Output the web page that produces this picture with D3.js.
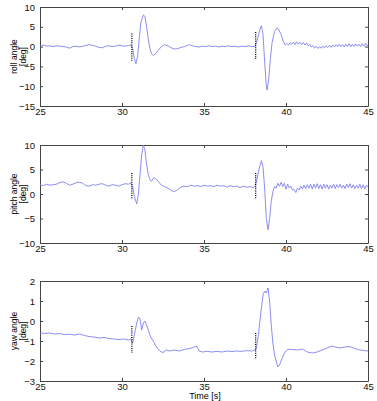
<!DOCTYPE html>
<html>
<head>
<meta charset="utf-8">
<script src="https://cdn.jsdelivr.net/npm/d3@7"></script>
<style>
  body { margin: 0; background: #fff; }
  svg text { font-family: "Liberation Sans", Arial, sans-serif; }
</style>
</head>
<body>
<svg width="377" height="401"></svg>
<script>
// time ticks shared by all panels
const timeTicks = [25, 30, 35, 40, 45]

// roll angle [t, deg]
const roll = [[25,0.1],[25.2,0.4],[25.4,0.1],[25.6,0.2],[25.8,0],[26.0,0.2],[26.2,0.1],[26.4,0],[26.6,-0.1],[26.8,-0.4],[27.0,0],[27.2,0.1],[27.4,-0.1],[27.6,0.1],[27.8,0.3],[28.0,0.5],[28.2,0.3],[28.4,0.1],[28.6,-0.2],[28.8,-0.3],[29.0,0.1],[29.2,0.2],[29.4,0],[29.6,0.1],[29.8,0.4],[30.0,0.2],[30.2,0.1],[30.4,0.3],[30.55,0.4],
  [30.65,-0.5],[30.75,-3],[30.85,-4.3],[30.95,-2.5],[31.05,2],[31.15,6],[31.3,8],[31.4,7.6],[31.5,5],[31.6,2],[31.7,-0.5],[31.8,-1.8],[31.9,-2.2],[32.0,-2.0],[32.2,-1.0],[32.4,0],[32.6,0.5],[32.8,0.2],[33.0,-0.3],[33.2,-0.6],[33.4,-0.5],[33.6,-0.2],[33.8,0],[34.0,0.3],[34.1,0.5],[34.3,0.2],[34.5,0],[34.7,-0.1],[34.9,0.1],[35.1,0],[35.3,0.2],[35.5,0],[35.7,0.1],[35.9,-0.1],[36.1,0.1],[36.3,0],[36.5,0.2],[36.7,0],[36.9,0.1],[37.1,-0.1],[37.3,0.1],[37.5,0],[37.7,0.2],[37.9,0],[38.1,0.1],
  [38.2,1.0],[38.3,2.5],[38.4,4.2],[38.5,5.3],[38.6,3],[38.7,-4],[38.8,-10],[38.85,-11],[38.95,-8],[39.05,-3],[39.15,1],[39.3,3.8],[39.45,4.7],[39.55,4.4],[39.7,3],[39.85,1.2],[39.95,0.4],[40.05,0.8],[40.15,0.4],[40.25,1],[40.35,0.6],[40.45,1.1],[40.55,0.5],[40.65,1.2],[40.75,0.6],[40.85,1.1],[40.95,0.5],[41.05,1],[41.15,0.4],[41.25,0.9],[41.35,0.2],[41.45,0.6],[41.55,-0.1],[41.65,0.3],[41.75,-0.4],[41.85,0.1],[41.95,-0.5],[42.05,0],[42.15,-0.4],[42.25,0.1],[42.35,-0.3],[42.45,0.2],[42.55,-0.2],[42.65,0.3],[42.75,-0.2],[42.85,0.4],[42.95,-0.1],[43.05,0.5],[43.15,0],[43.25,0.6],[43.35,0],[43.45,0.5],[43.55,-0.1],[43.65,0.6],[43.75,0],[43.85,0.7],[43.95,0],[44.05,0.6],[44.15,0],[44.25,0.7],[44.35,0.1],[44.45,0.6],[44.55,0],[44.65,0.7],[44.75,0.1],[44.85,0.8],[44.95,0.2],[45,0.5]]

// pitch angle [t, deg]
const pitch = [[25,1.9],[25.2,1.7],[25.4,2.0],[25.6,1.8],[25.8,1.9],[26.0,2.0],[26.2,2.3],[26.4,2.5],[26.6,2.2],[26.8,1.8],[27.0,2.0],[27.2,2.3],[27.4,2.4],[27.6,2.2],[27.8,1.7],[28.0,1.6],[28.2,1.9],[28.4,1.8],[28.6,2.0],[28.8,2.1],[29.0,1.8],[29.2,1.6],[29.4,1.9],[29.6,1.8],[29.8,1.6],[30.0,1.9],[30.2,2.1],[30.4,2.0],[30.55,2.3],
  [30.65,1.5],[30.75,-0.5],[30.9,-2],[31.0,0],[31.1,4],[31.2,8],[31.3,10],[31.4,9],[31.5,6],[31.6,4],[31.7,3],[31.8,2.6],[31.9,3.2],[32.0,3.3],[32.1,3.0],[32.2,2.6],[32.4,1.8],[32.6,1.5],[32.8,1.2],[33.0,0.7],[33.2,0.5],[33.4,0.9],[33.6,1.4],[33.8,1.6],[34.0,1.5],[34.2,1.8],[34.4,1.6],[34.6,1.7],[34.8,1.5],[35.0,1.8],[35.2,1.6],[35.4,1.7],[35.6,1.5],[35.8,1.8],[36.0,1.6],[36.2,1.7],[36.4,1.4],[36.6,1.7],[36.8,1.5],[37.0,1.6],[37.2,1.3],[37.4,1.6],[37.6,1.4],[37.8,1.5],[38.0,1.3],[38.1,1.6],
  [38.2,2.5],[38.35,5],[38.5,6.8],[38.6,5.5],[38.7,1],[38.8,-5],[38.9,-7.3],[39.0,-5],[39.1,-1.5],[39.2,0.5],[39.3,1.5],[39.4,1.2],[39.5,2.2],[39.6,1.6],[39.7,2.4],[39.8,1.5],[39.9,2.2],[40.0,1.0],[40.1,2.0],[40.2,1.2],[40.3,1.6],[40.4,0.8],[40.5,0.9],[40.6,0.3],[40.7,1.2],[40.8,0.8],[40.9,1.6],[41.0,1.0],[41.1,1.8],[41.2,1.1],[41.3,1.9],[41.4,1.2],[41.5,2.0],[41.6,1.0],[41.7,2.0],[41.8,1.2],[41.9,2.1],[42.0,1.1],[42.1,1.9],[42.2,1.0],[42.3,2.0],[42.4,1.2],[42.5,1.9],[42.6,1.0],[42.7,1.8],[42.8,1.2],[42.9,2.0],[43.0,1.1],[43.1,1.9],[43.2,1.3],[43.3,2.0],[43.4,1.2],[43.5,1.8],[43.6,1.1],[43.7,2.0],[43.8,1.3],[43.9,2.1],[44.0,1.2],[44.1,1.9],[44.2,1.1],[44.3,1.8],[44.4,1.2],[44.5,2.0],[44.6,1.1],[44.7,1.9],[44.8,1.0],[44.9,1.8],[45,1.4]]

// yaw angle [t, deg]
const yaw = [[25,-0.6],[25.3,-0.62],[25.6,-0.6],[25.9,-0.65],[26.2,-0.63],[26.5,-0.68],[26.8,-0.66],[27.1,-0.7],[27.4,-0.65],[27.7,-0.72],[28.0,-0.78],[28.3,-0.8],[28.6,-0.85],[28.9,-0.82],[29.2,-0.88],[29.5,-0.9],[29.8,-0.93],[30.1,-0.9],[30.4,-0.95],[30.55,-0.9],
  [30.65,-1.1],[30.75,-0.7],[30.9,-0.1],[31.0,0.2],[31.1,0.1],[31.2,-0.45],[31.3,-0.1],[31.4,0.0],[31.5,-0.2],[31.6,-0.45],[31.75,-0.8],[31.9,-1.0],[32.1,-1.3],[32.3,-1.5],[32.5,-1.58],[32.7,-1.45],[32.9,-1.5],[33.2,-1.45],[33.5,-1.5],[33.8,-1.42],[34.1,-1.38],[34.35,-1.32],[34.55,-1.25],[34.7,-1.5],[34.9,-1.55],[35.2,-1.52],[35.5,-1.55],[35.8,-1.52],[36.1,-1.55],[36.4,-1.5],[36.7,-1.53],[37.0,-1.5],[37.3,-1.52],[37.6,-1.48],[37.9,-1.5],[38.1,-1.45],
  [38.2,-1.35],[38.3,-0.8],[38.45,0.3],[38.6,1.3],[38.7,1.5],[38.8,1.4],[38.9,1.65],[39.0,1.0],[39.1,-0.2],[39.2,-1.1],[39.3,-1.7],[39.4,-2.0],[39.5,-2.3],[39.6,-2.2],[39.75,-1.9],[39.9,-1.6],[40.1,-1.42],[40.4,-1.42],[40.7,-1.45],[41.0,-1.4],[41.3,-1.55],[41.6,-1.6],[41.9,-1.55],[42.2,-1.45],[42.5,-1.35],[42.8,-1.25],[43.0,-1.3],[43.3,-1.35],[43.6,-1.3],[43.9,-1.28],[44.2,-1.38],[44.5,-1.45],[44.8,-1.48],[45,-1.5]]

// dotted markers: [t, top, bottom]
const rollMarks = [[30.6, 3.3, -3.6], [38.15, 3.7, -3.1]]
const pitchMarks = [[30.6, 4.3, -1], [38.15, 4.3, -1]]
const yawMarks = [[30.6, -0.25, -1.6], [38.15, -0.6, -1.9]]

const rollTicks = [10, 5, 0, -5, -10, -15]
const pitchTicks = [10, 5, 0, -5, -10]
const yawTicks = [2, 1, 0, -1, -2, -3]

const svg = d3.select('svg')
const left = 40, right = 368

const panels = [
  { data: roll, marks: rollMarks, ticks: rollTicks, dom: [-15, 10], top: 7, bottom: 106, label: 'roll angle' },
  { data: pitch, marks: pitchMarks, ticks: pitchTicks, dom: [-10, 10], top: 145, bottom: 243, label: 'pitch angle' },
  { data: yaw, marks: yawMarks, ticks: yawTicks, dom: [-3, 2], top: 281, bottom: 381, label: 'yaw angle' },
]

const x = d3.scaleLinear().domain([25, 45]).range([left, right])
const fmt = d3.format('d')

panels.forEach((p) => {
  const y = d3.scaleLinear().domain(p.dom).range([p.bottom, p.top])
  const g = svg.append('g')

  // axes, MATLAB style inward ticks
  const ax = (axis, tr) =>
    g.append('g').attr('transform', tr).call(axis)
      .call((s) => s.select('.domain').attr('stroke', '#444'))
      .call((s) => s.selectAll('.tick line').attr('stroke', '#444'))
      .call((s) => s.selectAll('text').attr('font-size', 9.5).attr('fill', '#111'))

  ax(d3.axisBottom(x).tickValues(timeTicks).tickSize(-3).tickPadding(2).tickSizeOuter(0), `translate(0,${p.bottom})`)
  ax(d3.axisTop(x).tickValues(timeTicks).tickSize(-3).tickFormat('').tickSizeOuter(0), `translate(0,${p.top})`)
  ax(d3.axisLeft(y).tickValues(p.ticks).tickFormat(fmt).tickSize(-3).tickPadding(5).tickSizeOuter(0), `translate(${left},0)`)
  ax(d3.axisRight(y).tickValues(p.ticks).tickSize(-3).tickFormat('').tickSizeOuter(0), `translate(${right},0)`)

  const line = d3.line().x((d) => x(d[0])).y((d) => y(d[1]))
  g.append('path')
    .datum(p.data)
    .attr('d', line)
    .attr('fill', 'none')
    .attr('stroke', '#8080f0')
    .attr('stroke-width', 0.9)

  g.selectAll('.mark')
    .data(p.marks)
    .enter()
    .append('line')
    .attr('x1', (d) => x(d[0]))
    .attr('x2', (d) => x(d[0]))
    .attr('y1', (d) => y(d[1]))
    .attr('y2', (d) => y(d[2]))
    .attr('stroke', '#000')
    .attr('stroke-width', 1.3)
    .attr('stroke-dasharray', '1,1.2')

  // y label, two lines
  const cy = (p.top + p.bottom) / 2
  const lab = g.append('text')
    .attr('transform', `translate(17,${cy}) rotate(-90)`)
    .attr('text-anchor', 'middle')
    .attr('font-size', 8.5)
  lab.append('tspan').attr('x', 0).attr('dy', 0).text(p.label)
  lab.append('tspan').attr('x', 0).attr('dy', 9).text('[deg]')
})

svg.append('text')
  .attr('x', 205)
  .attr('y', 399)
  .attr('text-anchor', 'middle')
  .attr('font-size', 9)
  .text('Time [s]')
</script>
</body>
</html>
